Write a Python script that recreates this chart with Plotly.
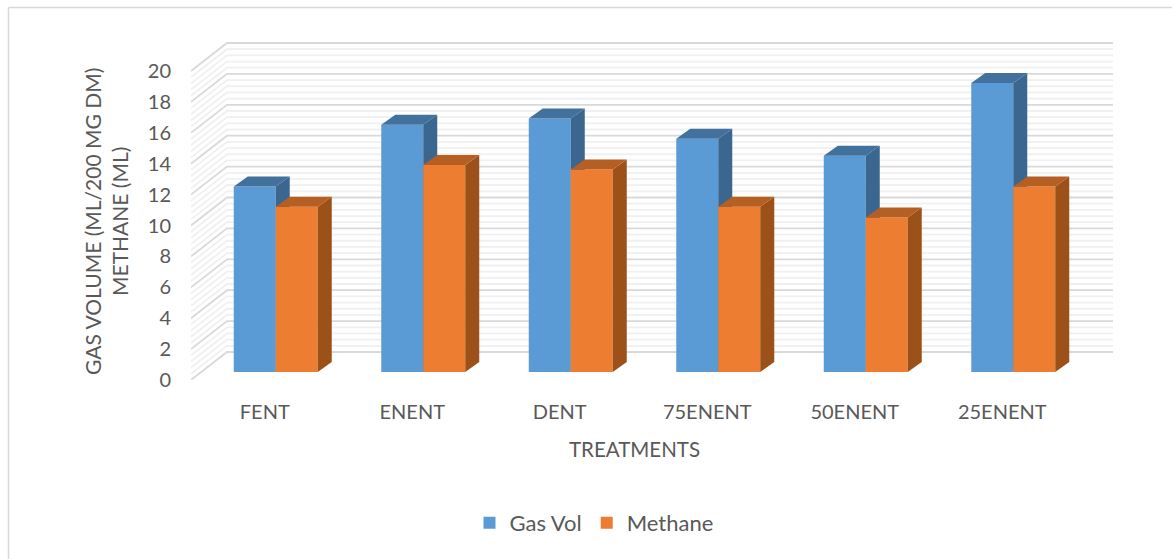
import plotly.graph_objects as go

# Chart data
categories = ["FENT", "ENENT", "DENT", "75ENENT", "50ENENT", "25ENENT"]
gas_vol = [12.0, 16.0, 16.4, 15.1, 14.0, 18.7]
methane = [10.7, 13.4, 13.1, 10.7, 10.0, 12.0]
y_ticks = [0, 2, 4, 6, 8, 10, 12, 14, 16, 18, 20]

# Canvas and projection geometry, in pixels
WIDTH, HEIGHT = 1172, 559
LEFT, RIGHT, TOP, BOTTOM = 191, 1113, 35, 380
PX_PER_CAT = 147.5
PX_PER_UNIT = 15.45
WALL_DX, WALL_DY = 36, 28     # how far the back wall sits behind the front edge
BAR_DX, BAR_DY = 14, 10       # depth of each column
FLOOR_DX, FLOOR_DY = 10.5, 8  # gap between front edge and column fronts
BAR_W = 42

to_x = lambda px: px / PX_PER_CAT
to_y = lambda px: px / PX_PER_UNIT
x_range = [-0.5, -0.5 + to_x(RIGHT - LEFT)]
y_range = [0, to_y(BOTTOM - TOP)]
paper_x = lambda px: (px - LEFT) / (RIGHT - LEFT)
paper_y = lambda px: (BOTTOM - px) / (BOTTOM - TOP)

TEXT = "#595959"
FONT = "Lato, Carlito, Calibri, sans-serif"


def wall_lines(values):
    """Side-wall diagonals joined to back-wall horizontals for each grid value."""
    xs, ys = [], []
    x0, x1 = x_range[0], x_range[0] + to_x(WALL_DX)
    for v in values:
        xs += [x0, x1, x_range[1], None]
        ys += [v, v + to_y(WALL_DY), v + to_y(WALL_DY), None]
    return xs, ys


def faces(values, left_px):
    """Top and side parallelograms of a column series, from its values."""
    top_x, top_y, side_x, side_y = [], [], [], []
    dx, dy = to_x(BAR_DX), to_y(BAR_DY)
    base = to_y(FLOOR_DY)
    for i, v in enumerate(values):
        xl = i + to_x(left_px)
        xr = xl + to_x(BAR_W)
        t = base + v
        top_x += [xl, xr, xr + dx, xl + dx, xl, None]
        top_y += [t, t, t + dy, t + dy, t, None]
        side_x += [xr, xr + dx, xr + dx, xr, xr, None]
        side_y += [t, t + dy, base + dy, base, t, None]
    return top_x, top_y, side_x, side_y


fig = go.Figure()

# Grid on the walls: minor lines every 0.4, major lines on the tick values
minor_values = [i * 0.4 for i in range(51) if i % 5 != 0]
mx, my = wall_lines(minor_values)
fig.add_trace(go.Scatter(x=mx, y=my, mode="lines", cliponaxis=False,
                         line=dict(color="#f0f0f0", width=1.8),
                         hoverinfo="skip", showlegend=False))
gx, gy = wall_lines(y_ticks)
fig.add_trace(go.Scatter(x=gx, y=gy, mode="lines", cliponaxis=False,
                         line=dict(color="#d9d9d9", width=1.8),
                         hoverinfo="skip", showlegend=False))

series = [
    ("Gas Vol", gas_vol, -31, "#5b9bd5", "#41719c", "#3b668f", "y2"),
    ("Methane", methane, 11, "#ed7d31", "#b65f22", "#9c5119", "y3"),
]
# Each series sits on its own overlaid y axis so it stacks above the previous one
for name, values, left, front, top, side, axis in series:
    fig.add_trace(go.Bar(
        x=list(range(len(categories))), y=values, base=to_y(FLOOR_DY),
        offset=to_x(left), width=to_x(BAR_W), name=name, yaxis=axis,
        marker=dict(color=front, line=dict(width=0)),
        customdata=categories,
        hovertemplate="%{customdata}: %{y}<extra>" + name + "</extra>",
    ))
    tx, ty, sx, sy = faces(values, left)
    fig.add_trace(go.Scatter(x=sx, y=sy, mode="lines", fill="toself", yaxis=axis,
                             fillcolor=side, line=dict(width=0),
                             hoverinfo="skip", showlegend=False))
    fig.add_trace(go.Scatter(x=tx, y=ty, mode="lines", fill="toself", yaxis=axis,
                             fillcolor=top, line=dict(width=0),
                             hoverinfo="skip", showlegend=False))

hidden_y = dict(range=y_range, overlaying="y", visible=False, fixedrange=True)

fig.update_layout(
    width=WIDTH, height=HEIGHT,
    margin=dict(l=LEFT, r=WIDTH - RIGHT, t=TOP, b=HEIGHT - BOTTOM, autoexpand=False),
    paper_bgcolor="white", plot_bgcolor="white",
    font=dict(family=FONT, size=20, color=TEXT),
    barmode="overlay",
    xaxis=dict(range=x_range, tickmode="array", tickvals=list(range(len(categories))),
               ticktext=categories, showgrid=False, zeroline=False, showline=False,
               ticks="", ticklabelstandoff=18, tickfont=dict(size=20, color=TEXT),
               fixedrange=True),
    yaxis=dict(range=y_range, tickmode="array", tickvals=y_ticks, showgrid=False,
               zeroline=False, showline=False, ticks="", ticklabelstandoff=19,
               tickfont=dict(size=20, color=TEXT), fixedrange=True),
    yaxis2=hidden_y, yaxis3=hidden_y,
    legend=dict(orientation="h", x=paper_x(594), xanchor="center",
                y=paper_y(523), yanchor="middle", font=dict(size=22, color=TEXT),
                bgcolor="rgba(0,0,0,0)"),
    shapes=[
        dict(type="line", xref="paper", yref="paper", x0=paper_x(8.5), x1=paper_x(WIDTH),
             y0=paper_y(7.5), y1=paper_y(7.5), line=dict(color="#d9d9d9", width=1.5)),
        dict(type="line", xref="paper", yref="paper", x0=paper_x(8.5), x1=paper_x(8.5),
             y0=paper_y(7.5), y1=paper_y(HEIGHT), line=dict(color="#d9d9d9", width=1.5)),
    ],
    annotations=[
        dict(text="TREATMENTS", xref="paper", yref="paper", x=paper_x(634), y=paper_y(449),
             showarrow=False, xanchor="center", yanchor="middle", font=dict(size=20.5, color=TEXT)),
        dict(text="GAS VOLUME (ML/200 MG DM)<br>METHANE (ML)", xref="paper", yref="paper",
             x=paper_x(106), y=paper_y(222), showarrow=False, textangle=-90, align="center",
             xanchor="center", yanchor="middle", font=dict(size=21, color=TEXT)),
    ],
)

fig.write_html("out.html")
